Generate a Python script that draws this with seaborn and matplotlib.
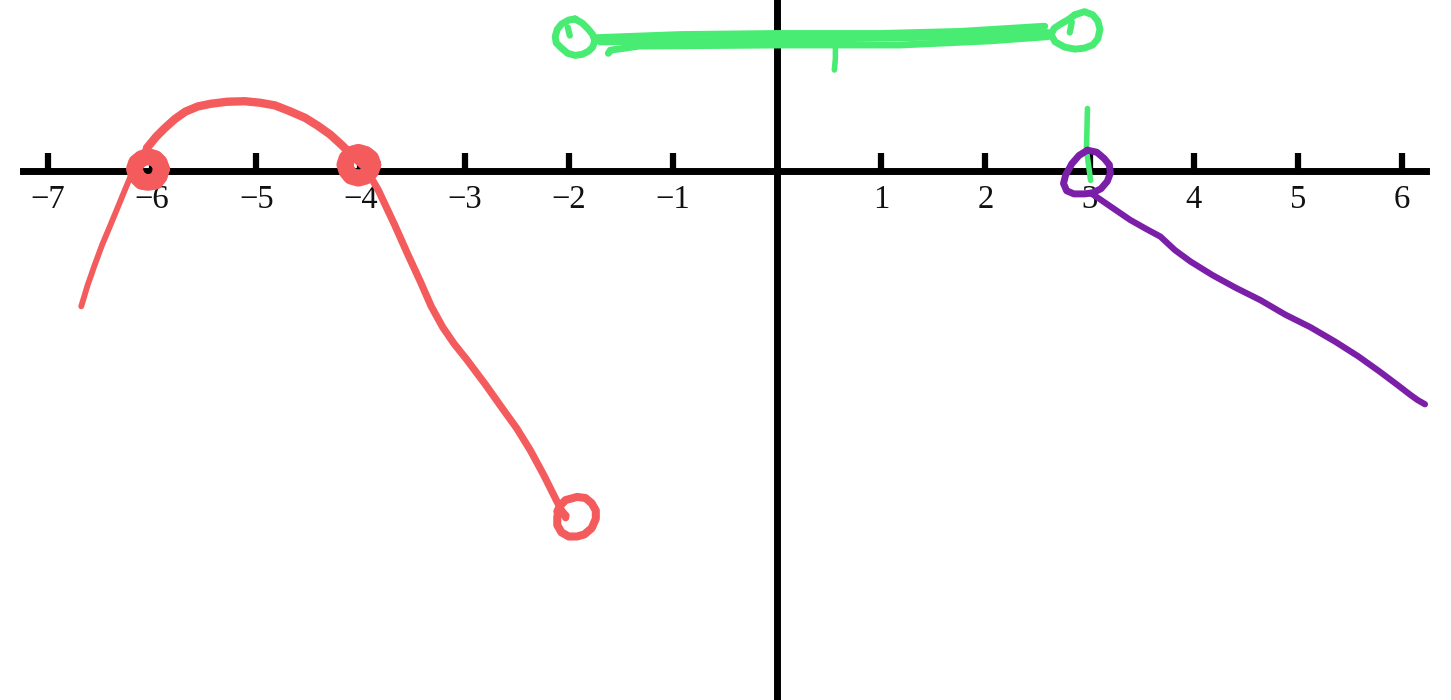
import matplotlib
matplotlib.use('Agg')
import matplotlib.pyplot as plt
import seaborn as sns

tick_vals = [-7, -6, -5, -4, -3, -2, -1, 1, 2, 3, 4, 5, 6]
tick_labels = ['\u22127', '\u22126', '\u22125', '\u22124', '\u22123', '\u22122', '\u22121', '1', '2', '3', '4', '5', '6']

# red sketch
red_left_x = [-6.68, -6.62, -6.55, -6.48, -6.40, -6.33, -6.26, -6.16, -6.05]
red_left_y = [-1.30, -1.10, -0.90, -0.71, -0.52, -0.35, -0.18, 0.06, 0.22]
red_arch_x = [-6.05, -5.96, -5.88, -5.78, -5.68, -5.56, -5.44, -5.28, -5.11, -4.96, -4.82, -4.68, -4.53, -4.41, -4.29, -4.18, -4.08, -3.98]
red_arch_y = [0.22, 0.33, 0.41, 0.50, 0.57, 0.62, 0.645, 0.665, 0.67, 0.655, 0.63, 0.575, 0.51, 0.435, 0.35, 0.25, 0.15, 0.06]
red_right_x = [-3.98, -3.90, -3.83, -3.75, -3.67, -3.55, -3.43, -3.32, -3.21, -3.10, -2.98, -2.80, -2.63, -2.50, -2.37, -2.24, -2.11, -2.03]
red_right_y = [0.06, -0.06, -0.18, -0.35, -0.52, -0.79, -1.05, -1.30, -1.50, -1.66, -1.81, -2.05, -2.29, -2.47, -2.68, -2.92, -3.18, -3.33]
red_open_x = [-2.11, -2.08, -2.03, -1.92, -1.84, -1.78, -1.74, -1.74, -1.78, -1.85, -1.92, -2.00, -2.07, -2.11, -2.11, -2.09, -2.03]
red_open_y = [-3.27, -3.21, -3.16, -3.13, -3.14, -3.19, -3.26, -3.34, -3.43, -3.49, -3.51, -3.51, -3.47, -3.40, -3.32, -3.25, -3.31]
dot1_x = [-5.91, -5.93, -5.97, -6.04, -6.10, -6.15, -6.17, -6.15, -6.10, -6.04, -5.97, -5.93, -5.91]
dot1_y = [0.02, 0.08, 0.12, 0.14, 0.12, 0.08, 0.02, -0.05, -0.10, -0.11, -0.10, -0.05, 0.02]
dot2_x = [-3.88, -3.90, -3.95, -4.02, -4.09, -4.13, -4.15, -4.13, -4.09, -4.02, -3.95, -3.90, -3.88]
dot2_y = [0.06, 0.12, 0.16, 0.18, 0.16, 0.12, 0.06, 0.00, -0.05, -0.07, -0.05, 0.00, 0.06]

# green sketch
green_top_x = [-1.73, -0.93, 0, 0.99, 1.76, 2.57]
green_top_y = [1.28, 1.31, 1.32, 1.32, 1.34, 1.39]
green_mid_x = [-1.70, 0, 1.76, 2.60]
green_mid_y = [1.24, 1.26, 1.29, 1.33]
green_low_x = [-1.62, -1.60, -1.32, 0, 1.18, 2.05, 2.60]
green_low_y = [1.13, 1.16, 1.20, 1.21, 1.21, 1.25, 1.29]
green_stub_x = [0.56, 0.56, 0.55]
green_stub_y = [1.20, 1.08, 0.97]
green_c1_x = [-1.94, -1.87, -1.81, -1.77, -1.75, -1.77, -1.81, -1.87, -1.94, -2.01, -2.07, -2.12, -2.13, -2.11, -2.07, -2.00, -1.94]
green_c1_y = [1.46, 1.42, 1.36, 1.31, 1.25, 1.19, 1.15, 1.12, 1.11, 1.13, 1.18, 1.23, 1.29, 1.36, 1.41, 1.45, 1.46]
green_hook1_x = [-2.01, -1.99]
green_hook1_y = [1.38, 1.30]
green_c2_x = [2.86, 2.95, 3.03, 3.08, 3.10, 3.08, 3.03, 2.95, 2.86, 2.76, 2.67, 2.63, 2.66, 2.72, 2.79, 2.86]
green_c2_y = [1.50, 1.53, 1.50, 1.44, 1.36, 1.27, 1.21, 1.18, 1.17, 1.19, 1.24, 1.31, 1.37, 1.41, 1.45, 1.50]
green_hook2_x = [2.81, 2.83]
green_hook2_y = [1.33, 1.43]
green_vert_x = [2.98, 2.97, 2.99, 3.01]
green_vert_y = [0.60, 0.20, 0.06, -0.09]

# purple sketch
purple_c_x = [2.98, 3.07, 3.14, 3.19, 3.20, 3.17, 3.11, 3.03, 2.95, 2.85, 2.78, 2.75, 2.77, 2.83, 2.90, 2.98]
purple_c_y = [0.20, 0.18, 0.12, 0.06, -0.02, -0.10, -0.17, -0.21, -0.22, -0.22, -0.19, -0.12, -0.04, 0.07, 0.15, 0.20]
purple_tail_x = [3.01, 3.20, 3.39, 3.55, 3.68, 3.82, 3.97, 4.18, 4.40, 4.64, 4.88, 5.12, 5.36, 5.58, 5.79, 5.95, 6.08, 6.15, 6.22]
purple_tail_y = [-0.21, -0.34, -0.47, -0.56, -0.63, -0.76, -0.87, -1.00, -1.12, -1.24, -1.38, -1.50, -1.64, -1.78, -1.93, -2.05, -2.15, -2.20, -2.24]

RED = '#F45B5D'
GREEN = '#48EC73'
PURPLE = '#7B1FA8'

sns.set_theme(style='white')
plt.rcParams['font.family'] = ['Liberation Serif', 'DejaVu Sans']

fig = plt.figure(figsize=(14.51, 7), dpi=100)
ax = fig.add_axes([0, 0, 1, 1])


def stroke(xs, ys, color, width):
    sns.lineplot(x=xs, y=ys, color=color, linewidth=width, sort=False, estimator=None,
                 solid_capstyle='round', solid_joinstyle='round', ax=ax)


stroke(red_left_x, red_left_y, RED, 4.2)
stroke(red_arch_x, red_arch_y, RED, 6)
stroke(red_right_x, red_right_y, RED, 5.2)
stroke(red_open_x, red_open_y, RED, 5.8)
stroke(dot1_x, dot1_y, RED, 12)
stroke(dot2_x, dot2_y, RED, 12)

stroke(green_top_x, green_top_y, GREEN, 5)
stroke(green_mid_x, green_mid_y, GREEN, 5)
stroke(green_low_x, green_low_y, GREEN, 5)
stroke(green_stub_x, green_stub_y, GREEN, 4)
stroke(green_c1_x, green_c1_y, GREEN, 5)
stroke(green_hook1_x, green_hook1_y, GREEN, 4.5)
stroke(green_c2_x, green_c2_y, GREEN, 5)
stroke(green_hook2_x, green_hook2_y, GREEN, 4.5)
stroke(green_vert_x, green_vert_y, GREEN, 4)

stroke(purple_c_x, purple_c_y, PURPLE, 5)
stroke(purple_tail_x, purple_tail_y, PURPLE, 4.5)

ax.set_xlim(-7.46, 6.47)
ax.set_ylim(-5.08, 1.642)
ax.set_xlabel('')
ax.set_ylabel('')

# axes cross at the origin
sns.despine(ax=ax, top=True, right=True)
ax.spines['left'].set_position(('data', 0))
ax.spines['bottom'].set_position(('data', 0))
ax.spines['bottom'].set_bounds(-7.24, 6.23)
for name in ['left', 'bottom']:
    ax.spines[name].set_linewidth(5)
    ax.spines[name].set_color('black')
    ax.spines[name].set_zorder(1)
ax.set_axisbelow(True)

ax.set_xticks(tick_vals)
ax.set_xticklabels(tick_labels)
ax.set_yticks([])
ax.tick_params(axis='x', direction='in', bottom=True, length=13, width=4.5, color='black',
               labelsize=23.5, labelcolor='#111111', pad=10)

fig.savefig('out.png', dpi=100, facecolor='white')
